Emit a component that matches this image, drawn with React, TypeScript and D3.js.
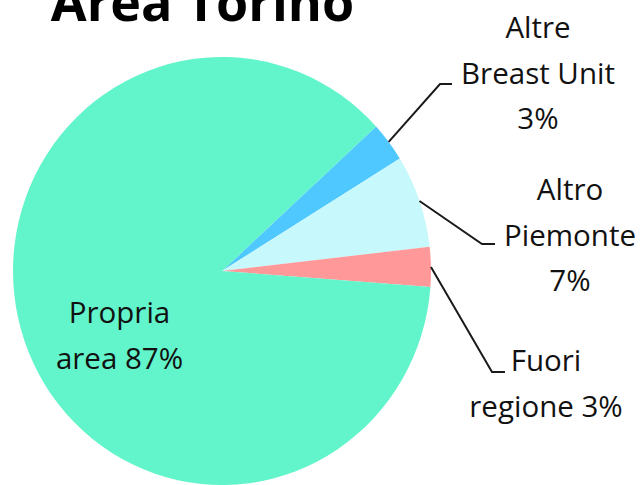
import React from "react";
import * as d3 from "d3";

// ---- Data ----
const categories = ["Altre Breast Unit", "Altro Piemonte", "Fuori regione", "Propria area"];
const values = [3, 7, 3, 87];
const labelLines = [
  ["Altre", "Breast Unit", "3%"],
  ["Altro", "Piemonte", "7%"],
  ["Fuori", "regione 3%"],
  ["Propria", "area 87%"],
];
const title = "Area Torino";

// ---- Styles / layout ----
const colors = ["#4FC8FF", "#C7F8FB", "#FF9999", "#62F4CA"];
const W = 643;
const H = 485;
const CX = 222;
const CY = 271;
const RX = 209;
const RY = 214;
const START_DEG = 47.5;
const FONT = "'Open Sans', 'Noto Sans', sans-serif";
const LINE_H = 45.5;
// label layout: center x, first baseline, leader elbow (x,y) and leader end x (null = no leader)
const labelLayout = [
  { x: 538, y: 38, elbowX: 440, elbowY: 84, endX: 452 },
  { x: 570, y: 200, elbowX: 482, elbowY: 244, endX: 495 },
  { x: 546, y: 371, elbowX: 492, elbowY: 372, endX: 505 },
  { x: 119.5, y: 323, elbowX: null, elbowY: null, endX: null },
];

export default function App() {
  const start = (START_DEG * Math.PI) / 180;
  const pie = d3
    .pie<number>()
    .sort(null)
    .value((d) => d)
    .startAngle(start)
    .endAngle(start + 2 * Math.PI);
  const arcs = pie(values);
  const arcGen = d3.arc<d3.PieArcDatum<number>>().innerRadius(0).outerRadius(RX);

  return (
    <svg
      width={W}
      height={H}
      viewBox={`0 0 ${W} ${H}`}
      style={{ position: "absolute", left: 0, top: 0, background: "#fff" }}
    >
      <rect x={0} y={0} width={W} height={H} fill="#fff" />
      <g transform={`translate(${CX},${CY}) scale(1,${RY / RX})`}>
        {arcs.map((a, i) => (
          <path key={categories[i]} d={arcGen(a) || ""} fill={colors[i]} />
        ))}
      </g>
      {arcs.map((a, i) => {
        const L = labelLayout[i];
        if (L.elbowX == null) return null;
        const mid = (a.startAngle + a.endAngle) / 2;
        const sx = CX + RX * Math.sin(mid);
        const sy = CY - RY * Math.cos(mid);
        const line = d3.line()([
          [sx, sy],
          [L.elbowX, L.elbowY as number],
          [L.endX as number, L.elbowY as number],
        ]);
        return (
          <path key={"l" + i} d={line || ""} fill="none" stroke="#1a1a1a" strokeWidth={2} />
        );
      })}
      {labelLines.map((lines, i) => {
        const L = labelLayout[i];
        return (
          <text
            key={"t" + i}
            textAnchor="middle"
            fontFamily={FONT}
            fontSize={29.5}
            fill="#111"
          >
            {lines.map((s, j) => (
              <tspan key={j} x={L.x} y={L.y + j * LINE_H}>
                {s}
              </tspan>
            ))}
          </text>
        );
      })}
      <text
        x={202.5}
        y={21}
        textAnchor="middle"
        fontFamily={FONT}
        fontWeight="bold"
        fontSize={52}
        fill="#000"
      >
        {title}
      </text>
    </svg>
  );
}
